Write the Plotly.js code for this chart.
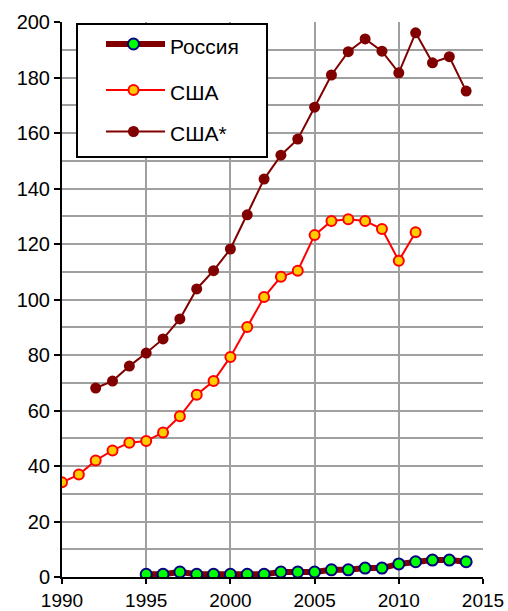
<!DOCTYPE html>
<html>
<head>
<meta charset="utf-8">
<script src="https://cdn.plot.ly/plotly-3.0.1.min.js"></script>
<style>html,body{margin:0;padding:0;background:#fff;}#chart{width:508px;height:611px;}</style>
</head>
<body>
<div id="chart"></div>
<script>
const yearsRussia = [1995,1996,1997,1998,1999,2000,2001,2002,2003,2004,2005,2006,2007,2008,2009,2010,2011,2012,2013,2014];
const russia = [1,1,1.8,1,1,1,1,1,1.8,1.8,1.8,2.6,2.6,3.2,3.2,4.7,5.5,6.1,6.1,5.5];

const yearsUSA = [1990,1991,1992,1993,1994,1995,1996,1997,1998,1999,2000,2001,2002,2003,2004,2005,2006,2007,2008,2009,2010,2011];
const usa = [34.1,36.9,42,45.6,48.4,49,52.1,57.9,65.7,70.6,79.3,90.1,100.9,108.2,110.4,123.2,128.3,128.9,128.3,125.4,114,124.2];

const yearsUSAstar = [1992,1993,1994,1995,1996,1997,1998,1999,2000,2001,2002,2003,2004,2005,2006,2007,2008,2009,2010,2011,2012,2013,2014];
const usaStar = [68.1,70.6,76,80.7,85.8,93,103.8,110.4,118.2,130.5,143.4,152,157.8,169.3,180.9,189.3,193.9,189.5,181.7,196.1,185.3,187.5,175.1];

const names = ['Россия','США','США*'];

const styles = [
  {line: {color: '#800000', width: 6}, marker: {color: '#00ff00', size: 11, line: {color: '#000080', width: 2}}},
  {line: {color: '#ff0000', width: 2}, marker: {color: '#ffcc00', size: 10, line: {color: '#ff0000', width: 2}}},
  {line: {color: '#800000', width: 2}, marker: {color: '#800000', size: 11, line: {color: '#800000', width: 0}}}
];
const xs = [yearsRussia, yearsUSA, yearsUSAstar];
const ys = [russia, usa, usaStar];

function font() { return 'Liberation Sans, Arial, sans-serif'; }

const traces = names.map((n, i) => ({
  x: xs[i], y: ys[i], name: n, mode: 'lines+markers', showlegend: false,
  line: styles[i].line, marker: styles[i].marker
}));

// Legend drawn as shapes + annotations in paper coordinates
const L = 62, R = 483, T = 22, B = 577;
const px = v => (v - L) / (R - L);
const py = v => (B - v) / (B - T);
const shapes = [{type: 'rect', xref: 'paper', yref: 'paper', x0: px(77), x1: px(267), y0: py(157), y1: py(24),
  fillcolor: '#fff', line: {color: '#000', width: 2}, layer: 'above'}];
const annotations = [];
const rowY = [44, 90, 131.5];
names.forEach((n, i) => {
  const st = styles[i];
  shapes.push({type: 'line', xref: 'paper', yref: 'paper', x0: px(106), x1: px(165), y0: py(rowY[i]), y1: py(rowY[i]),
    line: {color: st.line.color, width: st.line.width}, layer: 'above'});
  const r = st.marker.size / 2;
  shapes.push({type: 'circle', xref: 'paper', yref: 'paper', xsizemode: 'pixel', ysizemode: 'pixel',
    xanchor: px(133.5), yanchor: py(rowY[i]), x0: -r, x1: r, y0: -r, y1: r,
    fillcolor: st.marker.color, line: {color: st.marker.line.color, width: st.marker.line.width || 0.1}, layer: 'above'});
  annotations.push({xref: 'paper', yref: 'paper', x: px(168), y: py(rowY[i] + 2), xanchor: 'left', yanchor: 'middle',
    text: n, showarrow: false, font: {family: font(), size: 21, color: '#000'}});
});

const layout = {
  width: 508, height: 611,
  margin: {l: 62, r: 25, t: 22, b: 34},
  paper_bgcolor: '#fff', plot_bgcolor: '#fff',
  font: {family: font(), size: 20, color: '#000'},
  showlegend: false,
  shapes: shapes,
  annotations: annotations,
  xaxis: {range: [1990, 2015], tickmode: 'linear', tick0: 1990, dtick: 5,
    tickfont: {family: font(), size: 19, color: '#000'},
    showgrid: true, gridcolor: '#a0a0a0', gridwidth: 2,
    showline: true, linecolor: '#000', linewidth: 2,
    ticks: 'outside', ticklen: 5, tickwidth: 2, tickcolor: '#000',
    zeroline: false, fixedrange: true},
  yaxis: {range: [0, 200], tickmode: 'linear', tick0: 0, dtick: 20,
    showgrid: true, gridcolor: '#a0a0a0', gridwidth: 2,
    minor: {dtick: 10, showgrid: true, gridcolor: '#a0a0a0', gridwidth: 2},
    showline: true, linecolor: '#000', linewidth: 2,
    ticks: 'outside', ticklen: 6, tickwidth: 2, tickcolor: '#000',
    zeroline: false, fixedrange: true}
};

Plotly.newPlot('chart', traces, layout, {staticPlot: true});
</script>
</body>
</html>
